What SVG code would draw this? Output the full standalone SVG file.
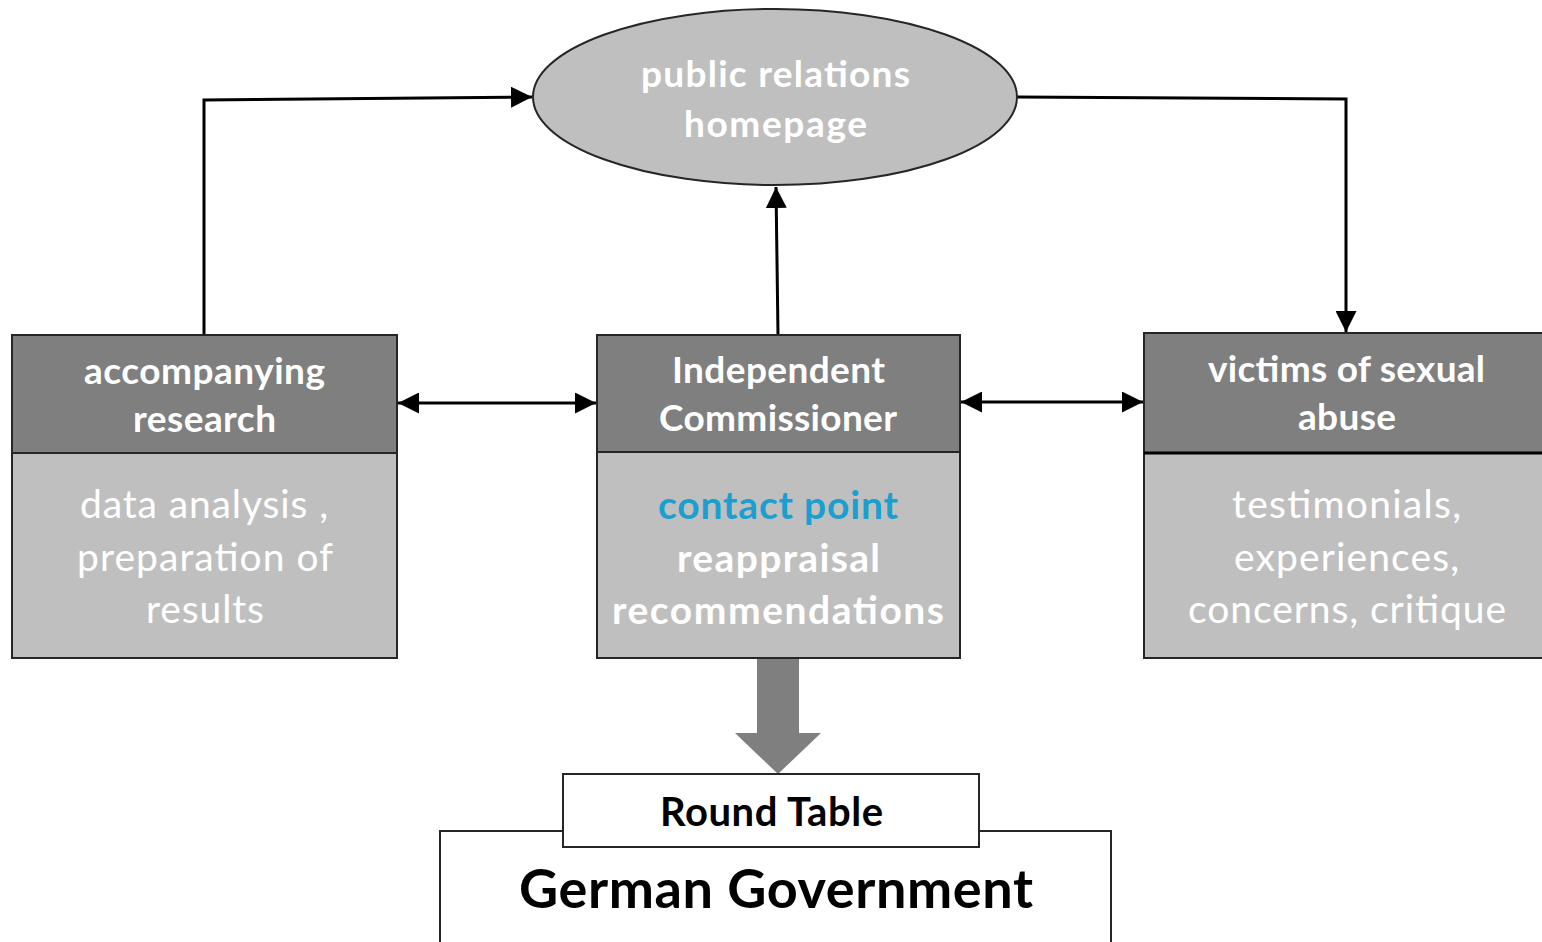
<svg xmlns="http://www.w3.org/2000/svg" width="1542" height="942" viewBox="0 0 1542 942">
<defs>
<style>
text{font-family:Lato,"Open Sans","Liberation Sans",sans-serif;text-anchor:middle}
.h{fill:#fff;font-weight:bold;font-size:37px}
.b{fill:#fff;font-size:39px}
.bb{fill:#fff;font-size:39px;font-weight:bold}
.hdr{fill:#7f7f7f;stroke:#262626;stroke-width:2}
.bod{fill:#bfbfbf;stroke:#262626;stroke-width:2}
.ln{fill:none;stroke:#000;stroke-width:3}
</style>
<marker id="ah" viewBox="0 0 10 10" refX="10" refY="5" markerWidth="7" markerHeight="7" markerUnits="strokeWidth" orient="auto-start-reverse">
<path d="M0,0L10,5L0,10z" fill="#000"/>
</marker>
</defs>
<rect width="1542" height="942" fill="#fff"/>
<g id="connectors">
<polyline class="ln" points="204,335 204,100 532,97" marker-end="url(#ah)"/>
<polyline class="ln" points="1017,97 1346,99 1346,332" marker-end="url(#ah)"/>
<line class="ln" x1="778" y1="335" x2="776" y2="187" marker-end="url(#ah)"/>
<line class="ln" x1="398" y1="403" x2="596" y2="403" marker-start="url(#ah)" marker-end="url(#ah)"/>
<line class="ln" x1="961" y1="402" x2="1143" y2="402" marker-start="url(#ah)" marker-end="url(#ah)"/>
<path d="M757,658H799V733H821L778,774L735,733H757z" fill="#7f7f7f"/>
</g>
<g id="homepage">
<ellipse cx="775" cy="97" rx="242" ry="88" fill="#bfbfbf" stroke="#262626" stroke-width="2"/>
<text class="h" x="775.5" y="87" font-size="39" textLength="269">public relations</text>
<text class="h" x="775.5" y="137" font-size="39" textLength="183">homepage</text>
</g>
<g id="research">
<rect class="bod" x="12" y="335" width="385" height="323"/>
<rect class="hdr" x="12" y="335" width="385" height="118"/>
<text class="h" x="204.5" y="384" textLength="241">accompanying</text>
<text class="h" x="204.5" y="432" textLength="143">research</text>
<text class="b" x="204" y="518" textLength="248">data analysis ,</text>
<text class="b" x="205" y="571" textLength="256">preparation of</text>
<text class="b" x="205" y="623" textLength="118">results</text>
</g>
<g id="commissioner">
<rect class="bod" x="597" y="335" width="363" height="323"/>
<rect class="hdr" x="597" y="335" width="363" height="117"/>
<text class="h" x="778.5" y="383" textLength="213">Independent</text>
<text class="h" x="778" y="431" textLength="238">Commissioner</text>
<text class="bb" x="778" y="519" style="fill:#1a9fd0" textLength="240">contact point</text>
<text class="bb" x="778.5" y="572" textLength="203">reappraisal</text>
<text class="bb" x="778" y="624" textLength="332">recommendations</text>
</g>
<g id="victims">
<rect class="bod" x="1144" y="333" width="410" height="325"/>
<rect class="hdr" x="1144" y="333" width="410" height="120"/>
<line x1="1144" y1="453" x2="1542" y2="453" stroke="#000" stroke-width="3"/>
<text class="h" x="1346.5" y="382" textLength="277">victims of sexual</text>
<text class="h" x="1347" y="430" textLength="98">abuse</text>
<text class="b" x="1346.5" y="518" textLength="229">testimonials,</text>
<text class="b" x="1346.5" y="571" textLength="225">experiences,</text>
<text class="b" x="1347" y="623" textLength="318">concerns, critique</text>
</g>
<g id="government">
<rect x="440" y="831" width="671" height="130" fill="#fff" stroke="#262626" stroke-width="2"/>
<text x="776" y="908" font-size="54" font-weight="bold" fill="#000" textLength="514">German Government</text>
</g>
<g id="roundtable">
<rect x="563" y="774" width="416" height="73" fill="#fff" stroke="#262626" stroke-width="2"/>
<text x="771.5" y="826" font-size="40" font-weight="bold" fill="#000" textLength="223">Round Table</text>
</g>
</svg>
